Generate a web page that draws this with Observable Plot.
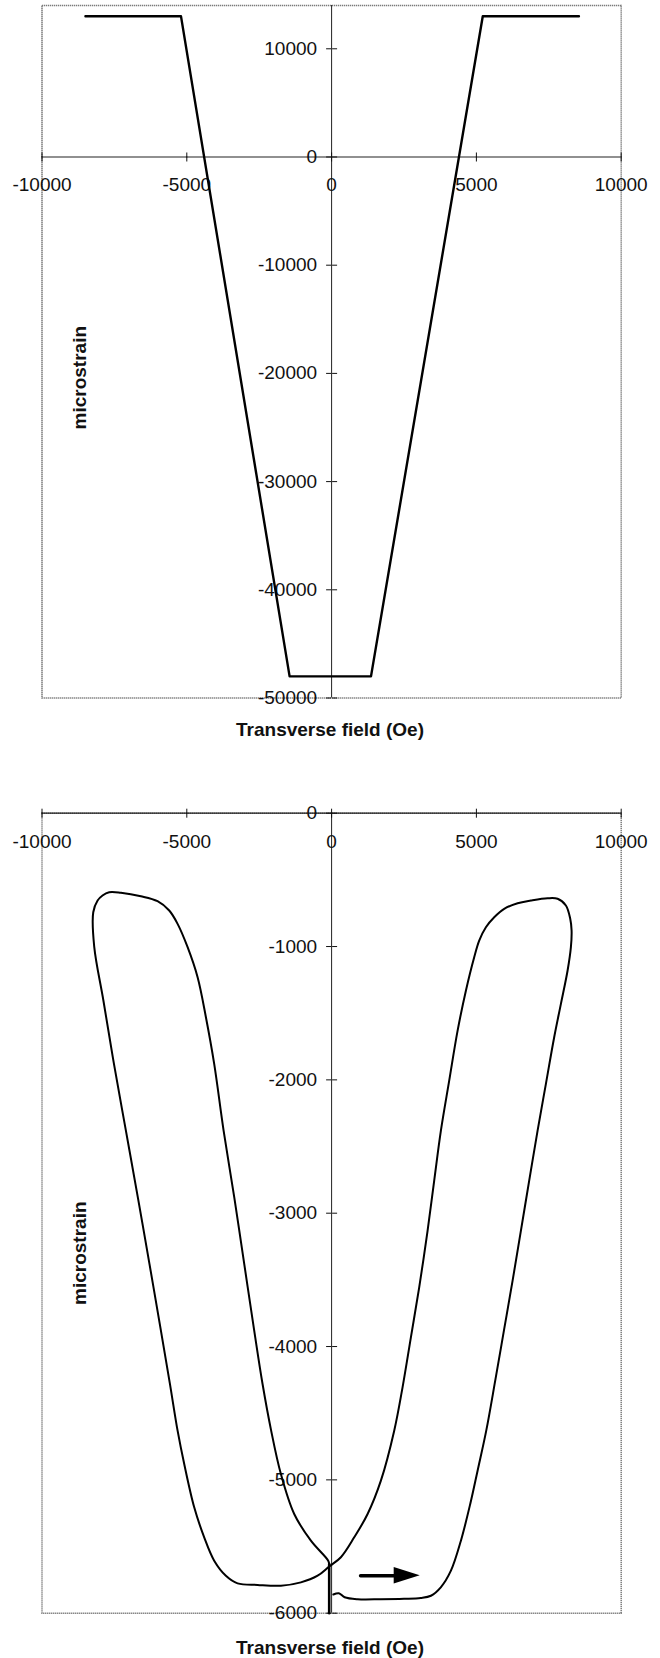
<!DOCTYPE html>
<html>
<head>
<meta charset="utf-8">
<script src="https://cdn.jsdelivr.net/npm/d3@7"></script>
<script src="https://cdn.jsdelivr.net/npm/@observablehq/plot@0.6"></script>
<style>
  html, body { margin: 0; padding: 0; background: #fff; }
  body { width: 660px; height: 1658px; position: relative; overflow: hidden;
         font-family: "Liberation Sans", Arial, Helvetica, sans-serif; color: #111; }
  .chart { position: absolute; left: 0; }
  .xlabel { position: absolute; left: 0; width: 660px; text-align: center;
            font-weight: bold; font-size: 19px; line-height: 19px; }
</style>
</head>
<body>
<div id="c1" class="chart" style="top:0px"></div>
<div class="xlabel" style="top:720px">Transverse field (Oe)</div>
<div id="c2" class="chart" style="top:790px"></div>
<div class="xlabel" style="top:1638px">Transverse field (Oe)</div>
<script>
// ---------- data ----------
const xTicks = [-10000, -5000, 0, 5000, 10000];
const yTicksTop = [-50000, -40000, -30000, -20000, -10000, 0, 10000];
const yTicksBottom = [-6000, -5000, -4000, -3000, -2000, -1000, 0];

// Top panel: strain vs transverse field (piecewise)
const fieldTop  = [-8500, -5200, -1450, 1360, 5220, 8540];
const strainTop = [13000, 13000, -48000, -48000, 13000, 13000];

// Bottom panel: hysteresis loop (traced in drawing order)
const loopField = [60, 250, 450, 900, 1700, 2500, 3080, 3430, 3770, 4120, 4465, 4787, 5041, 5340,
  5650, 5950, 6250, 6537, 6823, 7113, 7400, 7686, 7918, 8149, 8263, 8287, 8240, 8090, 7804, 7458,
  6882, 6423, 5960, 5615, 5328, 5097, 4924, 4637, 4351, 4061, 3774, 3543, 3315, 3025, 2738, 2450,
  2162, 1702, 1243, 781, 321, -83, -483, -1060, -1751, -2555, -3246, -3650, -4054, -4399,
  -4744, -5089, -5318, -5584, -5894, -6291, -6689, -7103, -7517, -7880, -8197, -8230, -8080, -7910,
  -7680, -7275, -6585, -6010, -5607, -5318, -4972, -4627, -4340, -4054, -3729, -3362, -3017, -2672,
  -2384, -2096, -1751, -1291, -715, -117, -83];
const loopStrain = [-5860, -5850, -5880, -5895, -5895, -5892, -5886, -5869, -5806, -5681, -5456, -5181, -4931, -4631,
  -4256, -3881, -3506, -3131, -2756, -2381, -2030, -1680, -1430, -1180, -1005, -880, -792, -692, -642, -638,
  -655, -675, -717, -780, -855, -955, -1080, -1331, -1631, -2006, -2381, -2756, -3131, -3556, -3931, -4306,
  -4631, -5006, -5256, -5431, -5580, -5650, -5719, -5769, -5794, -5788, -5776, -5719, -5606, -5431,
  -5206, -4881, -4631, -4278, -3881, -3378, -2883, -2381, -1878, -1405, -1000, -743, -655, -617,
  -593, -597, -623, -660, -730, -830, -1005, -1230, -1530, -1880, -2380, -2880, -3380, -3881,
  -4281, -4621, -4956, -5256, -5456, -5606, -5631];
// initial vertical segment at zero field
const startField  = [-83, -83];
const startStrain = [-6000, -5631];
// direction arrow
const arrowField  = [1000, 2200];
const arrowStrain = [-5719, -5719];
const arrowHeadField = [2162, 3060];
const arrowHeadLow   = [-5781, -5719];
const arrowHeadHigh  = [-5657, -5719];

// ---------- drawing ----------
const W = 660, ML = 41.5, MR = 39.3;
const xDomain = [-10000, 10000];
const fmt = d => String(d);
const font = '"Liberation Sans", Arial, Helvetica, sans-serif';

function chart({yDomain, yTicks, H, mt, mb, labelAt, marks}) {
  const x0 = ML + (W - ML - MR) * (0 - xDomain[0]) / (xDomain[1] - xDomain[0]);
  const y0 = mt + (H - mt - mb) * (yDomain[1] - 0) / (yDomain[1] - yDomain[0]);
  return Plot.plot({
    width: W, height: H,
    marginLeft: ML, marginRight: MR, marginTop: mt, marginBottom: mb,
    x: {domain: xDomain},
    y: {domain: yDomain},
    style: {fontFamily: font, fontSize: "19px", color: "#111", background: "transparent", overflow: "visible"},
    marks: [
      Plot.frame({stroke: "#7a7a7a", strokeWidth: 1.5, strokeDasharray: "1.3 0.7"}),
      Plot.ruleX([0], {stroke: "#222", strokeWidth: 1}),
      Plot.ruleY([0], {stroke: "#222", strokeWidth: 1.2}),
      // y axis along x = 0 (cross ticks)
      Plot.axisY({anchor: "left", ticks: yTicks, tickSize: 5, dx: x0 - ML, fill: "none", label: null, stroke: "#111"}),
      Plot.axisY({anchor: "right", ticks: yTicks, tickSize: 5, dx: x0 - (W - MR), fill: "none", label: null, stroke: "#111"}),
      Plot.axisY({anchor: "left", ticks: yTicks, tickSize: 0, tickPadding: 14.5, dx: x0 - ML,
                  tickFormat: fmt, label: null, fontSize: 19, fill: "#111"}),
      // x axis along y = 0 (cross ticks)
      Plot.axisX({anchor: "bottom", ticks: xTicks, tickSize: 5, dy: y0 - (H - mb), fill: "none", label: null, stroke: "#111"}),
      Plot.axisX({anchor: "top", ticks: xTicks, tickSize: 5, dy: y0 - mt, fill: "none", label: null, stroke: "#111"}),
      Plot.axisX({anchor: "bottom", ticks: xTicks, tickSize: 0, tickPadding: 21, dy: y0 - (H - mb),
                  tickFormat: fmt, label: null, fontSize: 19, fill: "#111"}),
      Plot.text(["microstrain"], {x: labelAt[0], y: labelAt[1], rotate: -90,
                  fontWeight: "bold", fontSize: 19, fill: "#111"}),
      ...marks
    ]
  });
}

const topData = fieldTop.map((f, i) => ({f, s: strainTop[i]}));
document.getElementById("c1").append(chart({
  yDomain: [-50000, 14000], yTicks: yTicksTop, H: 712, mt: 5, mb: 14.5, labelAt: [-8690, -20400],
  marks: [Plot.line(topData, {x: "f", y: "s", stroke: "#000", strokeWidth: 2.4})]
}));

const loop = loopField.map((f, i) => ({f, s: loopStrain[i]}));
const start = startField.map((f, i) => ({f, s: startStrain[i]}));
const shaft = arrowField.map((f, i) => ({f, s: arrowStrain[i]}));
const head = arrowHeadField.map((f, i) => ({f, lo: arrowHeadLow[i], hi: arrowHeadHigh[i]}));
document.getElementById("c2").append(chart({
  yDomain: [-6000, 0], yTicks: yTicksBottom, H: 840, mt: 22.7, mb: 17.3, labelAt: [-8690, -3300],
  marks: [
    Plot.line(loop, {x: "f", y: "s", stroke: "#000", strokeWidth: 2, curve: "catmull-rom"}),
    Plot.line(start, {x: "f", y: "s", stroke: "#000", strokeWidth: 2.6}),
    Plot.line(shaft, {x: "f", y: "s", stroke: "#000", strokeWidth: 3.5}),
    Plot.areaY(head, {x: "f", y1: "lo", y2: "hi", fill: "#000"})
  ]
}));
</script>
</body>
</html>
